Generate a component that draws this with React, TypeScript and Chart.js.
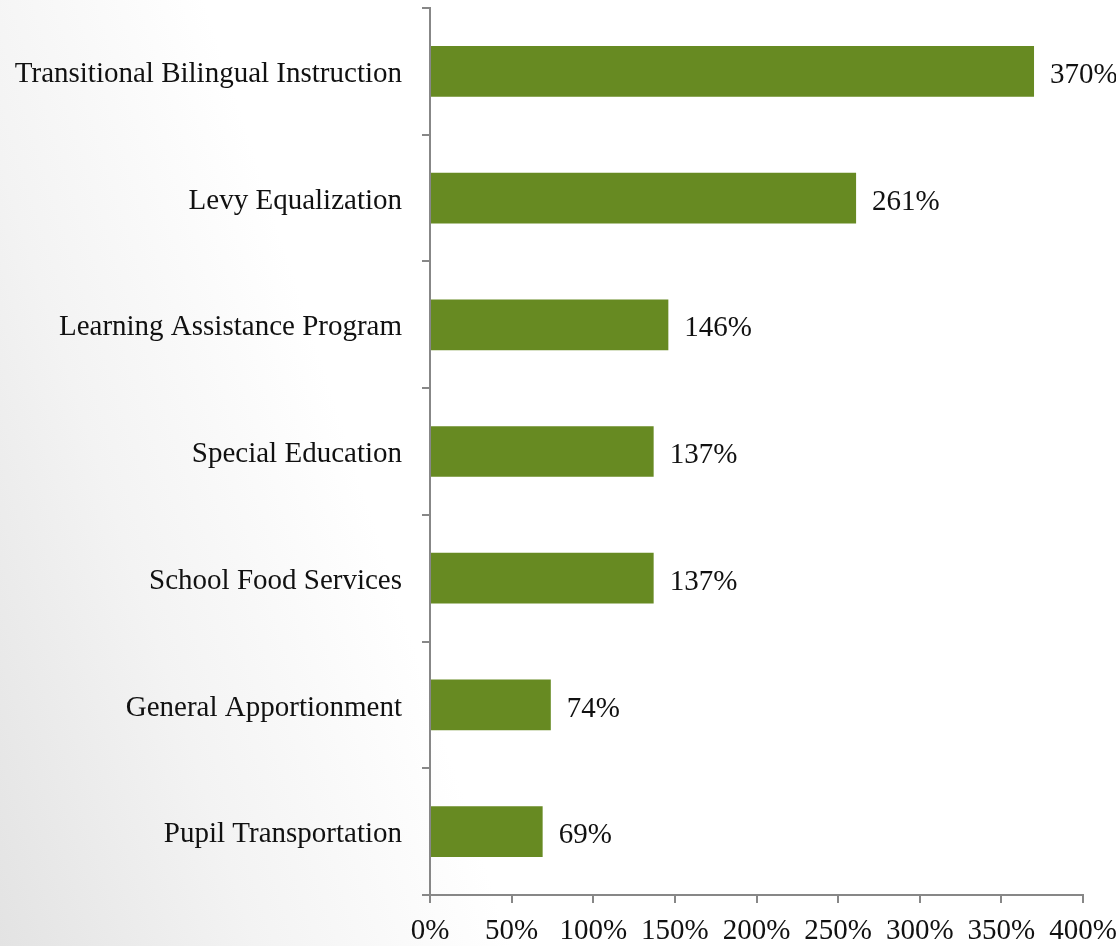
import React, { useEffect, useRef } from "react";
import { Chart, registerables } from "chart.js";

Chart.register(...registerables);

const categories = [
  "Transitional Bilingual Instruction",
  "Levy Equalization",
  "Learning Assistance Program",
  "Special Education",
  "School Food Services",
  "General Apportionment",
  "Pupil Transportation",
];
const values = [370, 261, 146, 137, 137, 74, 69];
const barColor = "#678A22";
const axisColor = "#878787";
const fontFamily = "'Liberation Serif', 'DejaVu Serif', serif";
const fontSize = 29;

const valueLabels = {
  id: "valueLabels",
  afterDatasetsDraw(chart: any) {
    const ctx = chart.ctx;
    const meta = chart.getDatasetMeta(0);
    ctx.save();
    ctx.font = `${fontSize}px ${fontFamily}`;
    ctx.fillStyle = "#111";
    ctx.textAlign = "left";
    ctx.textBaseline = "middle";
    meta.data.forEach((bar: any, i: number) => {
      ctx.fillText(`${values[i]}%`, bar.x + 16, bar.y + 4);
    });
    ctx.restore();
  },
};

export default function App() {
  const ref = useRef<HTMLCanvasElement>(null);
  useEffect(() => {
    if (!ref.current) return;
    const chart = new Chart(ref.current, {
      type: "bar",
      data: {
        labels: categories,
        datasets: [
          {
            data: values,
            backgroundColor: barColor,
            borderWidth: 0,
            barPercentage: 0.4,
            categoryPercentage: 1,
          },
        ],
      },
      options: {
        indexAxis: "y",
        animation: false,
        responsive: false,
        layout: { padding: { top: 8, right: 33, bottom: 0, left: 0 } },
        plugins: { legend: { display: false }, tooltip: { enabled: false } },
        scales: {
          x: {
            min: 0,
            max: 400,
            ticks: {
              stepSize: 50,
              callback: (v: any) => `${v}%`,
              color: "#111",
              font: { family: fontFamily, size: fontSize },
              padding: 11,
              maxRotation: 0,
              autoSkip: false,
            },
            grid: { drawOnChartArea: false, drawTicks: true, tickLength: 8, color: axisColor, lineWidth: 2 },
            border: { color: axisColor, width: 2 },
            afterFit: (s: any) => {
              s.height = 51;
              s.paddingLeft = 0;
              s.paddingRight = 0;
            },
          },
          y: {
            ticks: {
              color: "#111",
              font: { family: fontFamily, size: fontSize },
              padding: 20,
              labelOffset: 3,
              autoSkip: false,
            },
            grid: { drawOnChartArea: false, drawTicks: true, tickLength: 8, color: axisColor, lineWidth: 2, offset: true },
            border: { color: axisColor, width: 2 },
            afterFit: (s: any) => {
              s.width = 430;
              s.paddingTop = 0;
              s.paddingBottom = 0;
            },
          },
        },
      },
      plugins: [valueLabels],
    });
    return () => chart.destroy();
  }, []);
  return (
    <div
      style={{
        position: "fixed",
        left: 0,
        top: 0,
        width: 1116,
        height: 946,
        background: "linear-gradient(72deg, #e3e3e3 0%, #f3f3f3 18%, #ffffff 36%)",
      }}
    >
      <canvas ref={ref} width={1116} height={946} style={{ display: "block" }} />
    </div>
  );
}
